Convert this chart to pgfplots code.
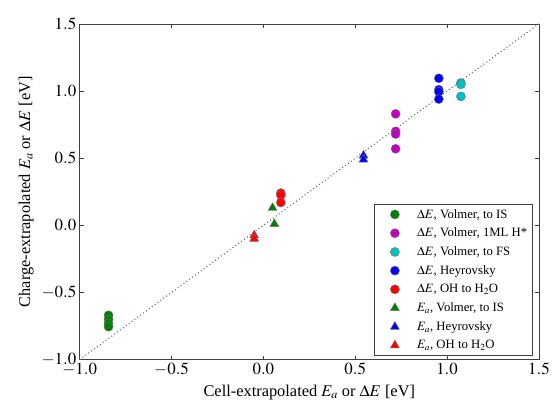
\documentclass[border=0pt]{standalone}
\usepackage{mathptmx}
\usepackage{fontspec}
\setmainfont{Liberation Serif}
\usepackage{pgfplots}
\pgfplotsset{compat=1.18}
\definecolor{mgreen}{rgb}{0,0.5,0}
\definecolor{mmag}{rgb}{0.75,0,0.75}
\definecolor{mcyan}{rgb}{0,0.75,0.75}
\pgfplotsset{myleg/.style={legend image code/.code={\draw[##1] plot coordinates {(0bp,0bp)}; \path (-17bp,0bp) (20bp,0bp);}}}
\begin{document}
\begin{tikzpicture}
\begin{axis}[
  scale only axis, width=461bp, height=337bp,
  xmin=-1, xmax=1.5, ymin=-1, ymax=1.5,
  xtick={-1,-0.5,0,0.5,1,1.5}, ytick={-1,-0.5,0,0.5,1,1.5},
  tick align=inside, major tick length=4pt,
  xticklabel style={/pgf/number format/.cd,fixed,fixed zerofill,precision=1},
  yticklabel style={/pgf/number format/.cd,fixed,fixed zerofill,precision=1},
  tick label style={font=\fontsize{17}{19}\selectfont},
  label style={font=\fontsize{16.5}{19}\selectfont},
  axis line style={black!75, line width=0.8pt},
  every tick/.style={black!75, line width=0.6pt},
  xlabel={Cell-extrapolated $E_a$ or $\Delta E$ [eV]},
  ylabel={Charge-extrapolated $E_a$ or $\Delta E$ [eV]},
  xlabel style={yshift=-2pt},
  ylabel style={yshift=1pt},
  legend style={at={(rel axis cs:0.986,0.012)}, anchor=south east,
    font=\fontsize{12.8}{14}\selectfont, draw=black!75, line width=0.8pt,
    row sep=4.5pt, inner xsep=3pt, inner ysep=3pt},
  legend cell align=left,
  clip=false,
]
\addplot[black!60, dash pattern=on 1pt off 2.6pt, line width=1.1pt, forget plot] coordinates {(-1,-1) (1.5,1.5)};
\addplot[myleg, only marks, mark=*, mark size=4.6pt, mark options={fill=mgreen, draw=black!55, line width=0.4pt}]
  coordinates {(-0.843,-0.67) (-0.843,-0.70) (-0.843,-0.73) (-0.843,-0.755)};
\addlegendentry{$\Delta E$, Volmer, to IS}
\addplot[myleg, only marks, mark=*, mark size=4.6pt, mark options={fill=mmag, draw=black!55, line width=0.4pt}]
  coordinates {(0.72,0.83) (0.72,0.70) (0.72,0.68) (0.72,0.57)};
\addlegendentry{$\Delta E$, Volmer, 1ML H*}
\addplot[myleg, only marks, mark=*, mark size=4.6pt, mark options={fill=mcyan, draw=black!55, line width=0.4pt}]
  coordinates {(1.075,1.06) (1.075,1.05) (1.075,0.96)};
\addlegendentry{$\Delta E$, Volmer, to FS}
\addplot[myleg, only marks, mark=*, mark size=4.6pt, mark options={fill=blue, draw=black!55, line width=0.4pt}]
  coordinates {(0.955,1.095) (0.955,1.01) (0.955,0.995) (0.955,0.94)};
\addlegendentry{$\Delta E$, Heyrovsky}
\addplot[myleg, only marks, mark=*, mark size=4.6pt, mark options={fill=red, draw=black!55, line width=0.4pt}]
  coordinates {(0.095,0.24) (0.095,0.225) (0.095,0.17)};
\addlegendentry{$\Delta E$, OH to H$_2$O}
\addplot[myleg, only marks, mark=triangle*, mark size=5.2pt, mark options={fill=mgreen, draw=black!55, line width=0.4pt}]
  coordinates {(0.05,0.13) (0.06,0.01)};
\addlegendentry{$E_a$, Volmer, to IS}
\addplot[myleg, only marks, mark=triangle*, mark size=5.2pt, mark options={fill=blue, draw=black!55, line width=0.4pt}]
  coordinates {(0.545,0.52) (0.545,0.49)};
\addlegendentry{$E_a$, Heyrovsky}
\addplot[myleg, only marks, mark=triangle*, mark size=5.2pt, mark options={fill=red, draw=black!55, line width=0.4pt}]
  coordinates {(-0.05,-0.075) (-0.05,-0.10)};
\addlegendentry{$E_a$, OH to H$_2$O}
\end{axis}
\path (current axis.south west) ++(-80bp,-44bp) coordinate (bbA);
\path (current axis.north east) ++(12bp,24bp) coordinate (bbB);
\path (bbA) rectangle (bbB);
\end{tikzpicture}
\end{document}
